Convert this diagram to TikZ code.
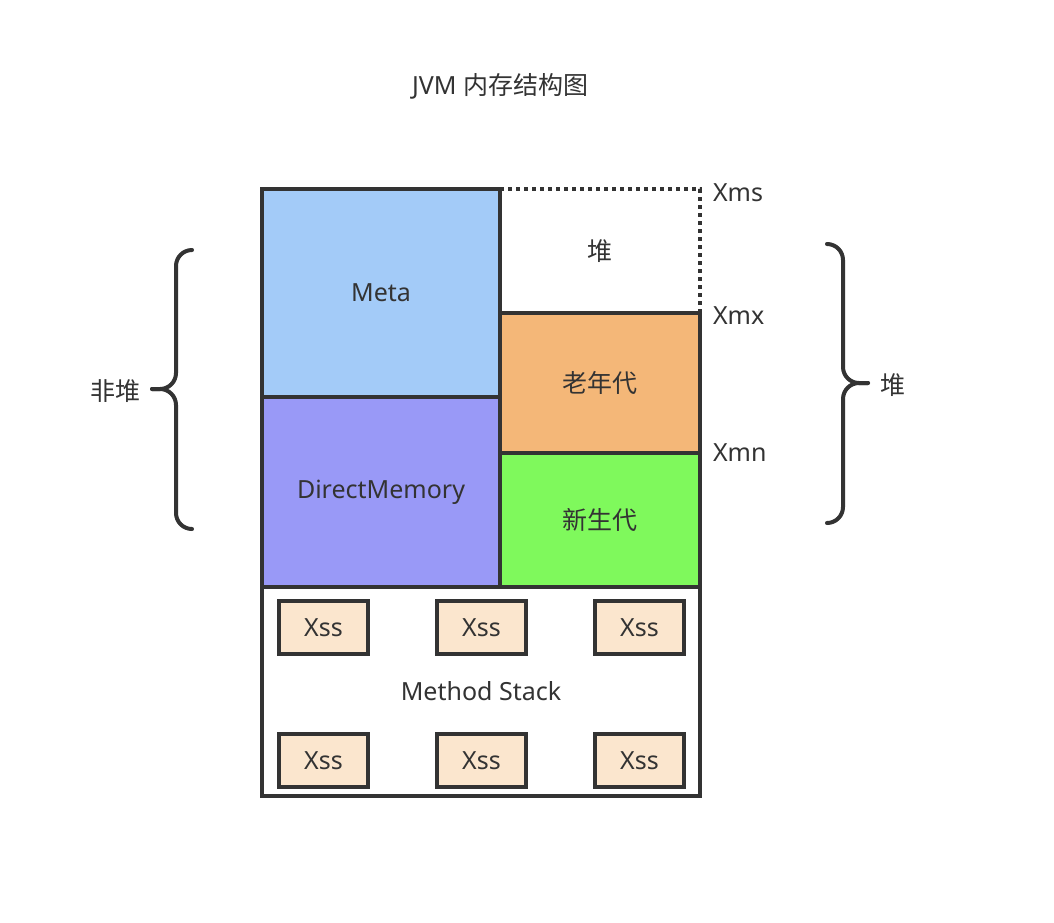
\documentclass[tikz,border=0pt]{standalone}
\usepackage{fontspec}
\setmainfont{Noto Sans}
\newfontfamily\cjk{Noto Sans CJK SC}
\definecolor{ink}{HTML}{333333}
\definecolor{metac}{HTML}{A3CBF8}
\definecolor{dmc}{HTML}{9999F7}
\definecolor{oldc}{HTML}{F4B778}
\definecolor{youngc}{HTML}{7FF95C}
\definecolor{xssc}{HTML}{FBE6CE}
\begin{document}
\begin{tikzpicture}[x=1pt,y=-1pt,
  every node/.style={text=ink, font=\fontsize{25}{29}\selectfont, inner sep=0pt, outer sep=0pt},
  region/.style={draw=ink, line width=3.5pt, rectangle},
  xssbox/.style={draw=ink, fill=xssc, line width=4pt, minimum width=89pt, minimum height=53pt},
  brace/.style={draw=ink, line width=4pt, line cap=round, rounded corners=16pt},
  lbl/.style={anchor=west}]
\useasboundingbox (0,0) rectangle (1054,922);
\fill[white] (0,0) rectangle (1054,922);

\node (title) at (500,86) {JVM {\cjk 内存结构图}};

\node[region, fill=metac, minimum width=238pt, minimum height=208pt] (meta) at (381,293) {Meta};
\node[region, fill=dmc, minimum width=238pt, minimum height=190pt] (dm) at (381,492) {DirectMemory};
\node[minimum width=200pt, minimum height=124pt] (heap) at (600,251) {\cjk 堆};
\node[region, fill=oldc, minimum width=200pt, minimum height=140pt] (old) at (600,383) {\cjk 老年代};
\node[region, fill=youngc, minimum width=200pt, minimum height=134pt] (young) at (600,520) {\cjk 新生代};
\node[region, fill=white, minimum width=438pt, minimum height=209pt] (stack) at (481,691.5) {Method Stack};

\draw[ink, line width=4pt, dash pattern=on 4pt off 4pt] (heap.north west) -- (heap.north east) -- (heap.south east);

\node[xssbox] (x1) at (323.5,627.5) {Xss};
\node[xssbox] (x2) at (481.5,627.5) {Xss};
\node[xssbox] (x3) at (639.5,627.5) {Xss};
\node[xssbox] (x4) at (323.5,760.5) {Xss};
\node[xssbox] (x5) at (481.5,760.5) {Xss};
\node[xssbox] (x6) at (639.5,760.5) {Xss};

\node[lbl] (xms) at (713,193) {Xms};
\node[lbl] (xmx) at (713,316) {Xmx};
\node[lbl] (xmn) at (713,453) {Xmn};

% left brace
\coordinate (lt) at (192,250);
\coordinate (lm) at (152,389);
\coordinate (lb) at (192,529);
\draw[brace] (lt) -- (176,250) -- (176,389) -- (lm);
\draw[brace] (lm) -- (176,389) -- (176,529) -- (lb);
\node[anchor=east] (nonheap) at (140,391) {\cjk 非堆};

% right brace
\coordinate (rt) at (827,244);
\coordinate (rm) at (868,383);
\coordinate (rb) at (827,523);
\draw[brace] (rt) -- (843,244) -- (843,383) -- (rm);
\draw[brace] (rm) -- (843,383) -- (843,523) -- (rb);
\node[anchor=west] (heaplbl) at (880,385) {\cjk 堆};
\end{tikzpicture}
\end{document}
